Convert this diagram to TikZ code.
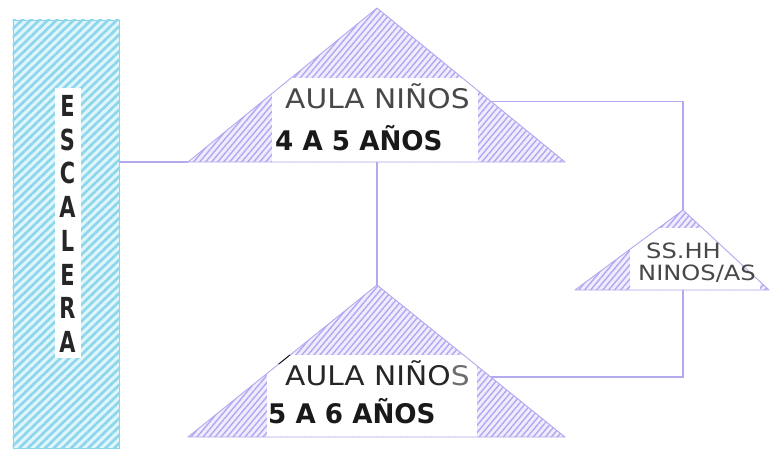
\documentclass[tikz,border=0pt]{standalone}
\usepackage{fontspec}
\setmainfont{DejaVu Sans}
\newfontfamily\lone[FakeStretch=1.1]{DejaVu Sans}
\newfontfamily\ltwo[FakeStretch=0.97]{DejaVu Sans}
\newfontfamily\lss[FakeStretch=1.15]{DejaVu Sans}
\newfontfamily\lesc[FakeStretch=0.72]{DejaVu Sans}
\usetikzlibrary{patterns.meta,calc}
\definecolor{lav}{RGB}{178,167,242}
\definecolor{lavbg}{RGB}{238,236,253}
\definecolor{lavline}{RGB}{178,170,238}
\definecolor{cyanh}{RGB}{140,214,236}
\definecolor{cyanbg}{RGB}{222,245,251}
\definecolor{tgray}{RGB}{72,72,72}
\tikzset{
  tri/.style={fill=lavbg,postaction={pattern={Lines[angle=50,distance=4.6pt,line width=1.4pt]},pattern color=lav}},
  triline/.style={draw=lavline,line width=0.9pt,line join=round},
  escbox/.style={rectangle,fill=cyanbg,draw=cyanh,line width=0.9pt,inner sep=0pt},
  esclet/.style={inner sep=0pt,font=\lesc\bfseries\fontsize{29}{30}\selectfont,text=black!85},
  conn/.style={draw=lavline,line width=1.1pt},
  lineone/.style={inner sep=0pt,anchor=base west,font=\lone\fontsize{27}{30}\selectfont},
  linetwo/.style={inner sep=0pt,anchor=base west,font=\ltwo\bfseries\fontsize{27}{30}\selectfont,text=black!90},
  ssline/.style={inner sep=0pt,anchor=base,font=\lss\fontsize{21}{24}\selectfont,text=tgray}
}
\begin{document}
\begin{tikzpicture}[x=1pt,y=-1pt]
\useasboundingbox (0,0) rectangle (770,450);
% ESCALERA
\node[escbox,minimum width=106pt,minimum height=428pt] (esc) at (66,234) {};
\fill[pattern={Lines[angle=44,distance=6pt,line width=2.6pt]},pattern color=cyanh]
  (esc.south west) rectangle (esc.north east);
\node[fill=white,inner sep=0pt,minimum width=26pt,minimum height=270pt] (escstrip) at (67.5,223) {};
\foreach \l [count=\i from 0] in {E,S,C,A,L,E,R,A}
  \node[esclet] (esc\i) at (67.5,{106+33.7*\i}) {\l};
% triangle coordinates
\coordinate (A1) at (377,8);   \coordinate (L1) at (188,162); \coordinate (R1) at (565,162);
\coordinate (A2) at (377,285); \coordinate (L2) at (188,437); \coordinate (R2) at (565,437);
\coordinate (A3) at (683,210); \coordinate (L3) at (575,290); \coordinate (R3) at (769,290);
% upper triangle
\path[tri] (A1) -- (L1) -- (R1) -- cycle;
\begin{scope}\clip (A1) -- (L1) -- (R1) -- cycle;
  \fill[white] (272,78) rectangle (478,162);
\end{scope}
\draw[triline] (A1) -- (L1) -- (R1) -- cycle;
% lower triangle
\path[tri] (A2) -- (L2) -- (R2) -- cycle;
\begin{scope}\clip (A2) -- (L2) -- (R2) -- cycle;
  \fill[white] (267,355) rectangle (477,437);
\end{scope}
\draw[triline] (A2) -- (L2) -- (R2) -- cycle;
\draw[black,line width=0.8pt] ($(A2)!0.46!(L2)$) -- ($(A2)!0.52!(L2)$);
% SS.HH triangle
\path[tri] (A3) -- (L3) -- (R3) -- cycle;
\begin{scope}\clip (A3) -- (L3) -- (R3) -- cycle;
  \fill[white] (630,228) rectangle (760,290);
\end{scope}
\draw[triline] (A3) -- (L3) -- (R3) -- cycle;
% texts
\node[lineone,text=tgray] (t1a) at (285,108) {AULA NIÑOS};
\node[linetwo] (t1b) at (275,150) {4 A 5 AÑOS};
\node[lineone,text=black!85] (t2a) at (285,385) {AULA NIÑO\textcolor{tgray!80}{S}};
\node[linetwo] (t2b) at (268,423) {5 A 6 AÑOS};
\node[ssline] (t3a) at (683.5,258) {SS.HH};
\node[ssline] (t3b) at (697,280) {NINOS/AS};
% connectors
\coordinate (P1) at ($(A1)!0.61!(R1)$);
\coordinate (P2) at ($(A2)!0.605!(R2)$);
\coordinate (B3) at (A3 |- L3);
\draw[conn] (esc.east |- L1) -- (L1);
\draw[conn] (A1 |- L1) -- (A2);
\draw[conn] (P1) -| (A3);
\draw[conn] (P2) -| (B3);
\end{tikzpicture}
\end{document}
